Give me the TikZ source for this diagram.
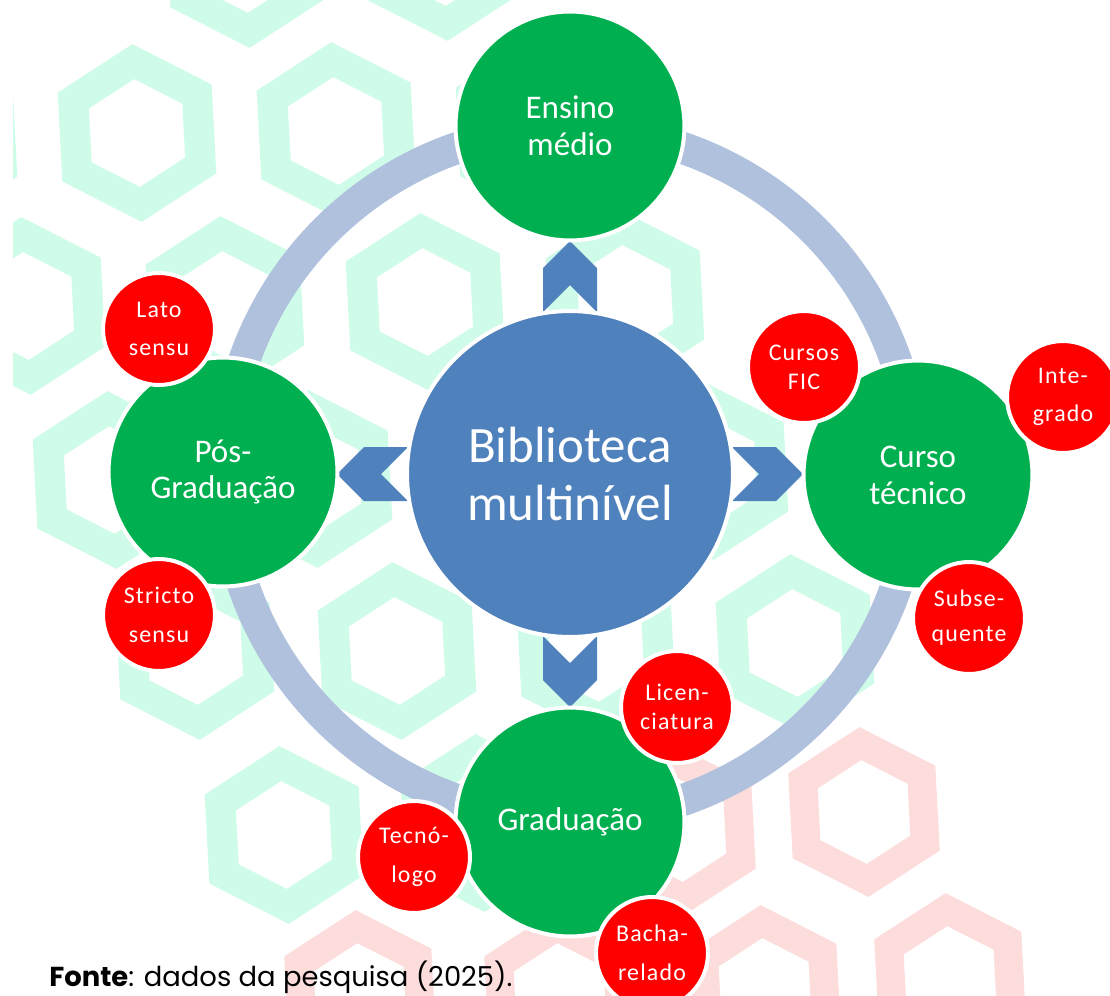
\documentclass[tikz,border=0pt]{standalone}
\usepackage{fontspec}
\setmainfont{Carlito}
\newfontfamily\leaffont[LetterSpace=5]{Carlito}
\newfontfamily\fontefont{Poppins}
\definecolor{hubblue}{HTML}{4F81BD}
\definecolor{satgreen}{HTML}{00B050}
\definecolor{leafred}{HTML}{FF0000}
\definecolor{ringblue}{HTML}{B0C1DE}
\definecolor{hexmint}{HTML}{CFFCE8}
\definecolor{hexpink}{HTML}{FDDCDC}
\tikzset{
  hub/.style={circle, fill=hubblue, draw=white, line width=0.08cm, minimum size=6.52cm, inner sep=0pt, align=center, text=white, font=\fontsize{29}{33}\selectfont},
  sat/.style={circle, fill=satgreen, draw=white, line width=0.08cm, minimum size=4.58cm, inner sep=0pt, align=center, text=white, font=\fontsize{18.8}{21}\selectfont},
  leaf/.style={circle, fill=leafred, draw=white, line width=0.08cm, minimum size=2.24cm, inner sep=0pt, align=center, text=white, font=\leaffont\fontsize{13.6}{22}\selectfont},
  tight/.style={font=\leaffont\fontsize{13.6}{16.4}\selectfont},
  midgap/.style={font=\leaffont\fontsize{13.6}{19.8}\selectfont},
  hexm/.style={draw=hexmint, line width=0.606cm, line join=miter},
  hexp/.style={draw=hexpink, line width=0.572cm, line join=miter},
  chev/.style={fill=hubblue},
  ring/.style={draw=ringblue, line width=0.64cm}
}
\begin{document}
\begin{tikzpicture}[x=0.02cm, y=-0.02cm]
\useasboundingbox (0,0) rectangle (1110,995);
\fill[white] (0,0) rectangle (1110,995);
% hexagon pattern behind
\begin{scope}
\clip (13,0) rectangle (1110,995);
\foreach \cx/\cy in {245/-41, 443/-48, -62/136, 137/133, 336/131, 535/128, 26/306, 225/305, 425/302, 625/299, 112/480, 313/479, 511/475, 709/471, 195/651, 397/651, 596/648, 795/643, 284/835, 480/823}
  \draw[hexm, shift={(\cx,\cy)}] (27:71.5) -- (87:71.5) -- (147:71.5) -- (207:71.5) -- (267:71.5) -- (327:71.5) -- cycle;
\foreach \cx/\cy in {680/830, 864/812, 360/995, 560/995, 765/990, 950/978}
  \draw[hexp, shift={(\cx,\cy)}] (27:68.5) -- (87:68.5) -- (147:68.5) -- (207:68.5) -- (267:68.5) -- (327:68.5) -- cycle;
\end{scope}
\coordinate (ctr) at (570,474);
\draw[ring] (ctr) circle [radius=6.9cm];
% chevrons
\foreach \a in {0,90,180,270}
  \fill[chev, shift={(ctr)}, rotate=\a] (162,27) -- (206,27) -- (233,0) -- (206,-27) -- (162,-27) -- (189,0) -- cycle;
\node[hub] (bib) at (ctr) {Biblioteca\\multinível};
\node[sat] (ens) at (570,126) {Ensino\\médio};
\node[sat] (tec) at (918,475) {Curso\\técnico};
\node[sat] (grad) at (570,822) {Graduação};
\node[sat] (pos) at (223,472) {Pós-\\Graduação};
\node[leaf] (lat) at (159,329) {Lato\\sensu};
\node[leaf] (str) at (159,615) {Stricto\\sensu};
\node[leaf, tight] (fic) at (804,367) {Cursos\\FIC};
\node[leaf] (int) at (1063,397) {Inte-\\grado};
\node[leaf, midgap] (sub) at (969,618) {Subse-\\quente};
\node[leaf, tight] (lic) at (677,707) {Licen-\\ciatura};
\node[leaf] (tcn) at (414,857) {Tecnó-\\logo};
\node[leaf] (bac) at (652,953) {Bacha-\\relado};
\node[anchor=base west, inner sep=0pt, font=\fontefont\fontsize{15.6}{18}\selectfont] (src) at (49,986) {\textbf{Fonte}: dados da pesquisa (2025).};
\end{tikzpicture}
\end{document}
